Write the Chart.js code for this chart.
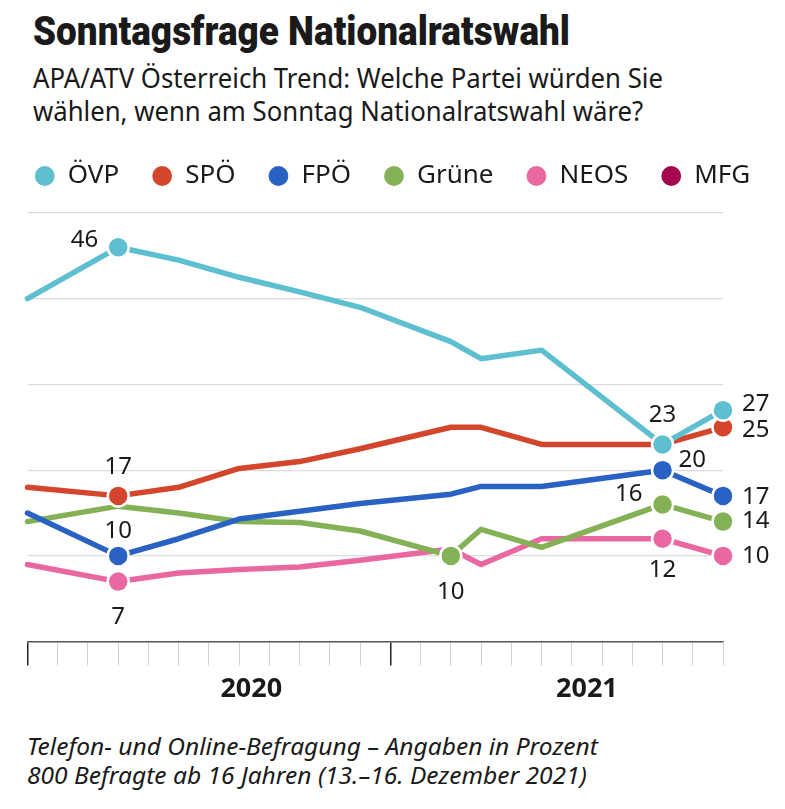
<!DOCTYPE html>
<html lang="de">
<head>
<meta charset="utf-8">
<title>Sonntagsfrage Nationalratswahl</title>
<script src="https://cdn.jsdelivr.net/npm/chart.js@4.4.1/dist/chart.umd.min.js"></script>
<style>
  body { margin: 0; background: #fff; }
  #page { position: relative; width: 785px; height: 809px; overflow: hidden; color: #1a1a1a; font-family: "Noto Sans", sans-serif; }
  .txt { position: absolute; white-space: nowrap; transform-origin: 0 0; }
  #title { left: 33px; top: 12px; font-family: Roboto, sans-serif; font-weight: 900; font-size: 40px; line-height: 40px; }
  .sub { left: 33px; font-size: 28px; line-height: 33px; }
  #sub1 { top: 61px; }
  #sub2 { top: 94px; }
  .foot { left: 27px; font-size: 24px; line-height: 29px; font-style: italic; }
  #foot1 { top: 731px; }
  #foot2 { top: 760px; }
  #chartBox { position: absolute; left: 0; top: 130px; width: 785px; height: 592px; }
</style>
</head>
<body>
<div id="page">
  <span class="txt" id="title">Sonntagsfrage Nationalratswahl</span>
  <span class="txt sub" id="sub1">APA/ATV Österreich Trend: Welche Partei würden Sie</span>
  <span class="txt sub" id="sub2">wählen, wenn am Sonntag Nationalratswahl wäre?</span>
  <div id="chartBox"><canvas id="chart"></canvas></div>
  <span class="txt foot" id="foot1">Telefon- und Online-Befragung – Angaben in Prozent</span>
  <span class="txt foot" id="foot2">800 Befragte ab 16 Jahren (13.–16. Dezember 2021)</span>
</div>
<script>
// months since January 2020 for each poll
const months = [0, 3, 5, 7, 9, 11, 14, 15, 17, 21, 23];

const ovp    = [40, 46, 44.5, 42.5, 40.8, 39, 35, 33, 34, 23, 27];
const spo    = [18, 17, 18, 20.2, 21, 22.5, 25, 25, 23, 23, 25];
const fpo    = [15, 10, 12, 14.3, 15.2, 16.1, 17.2, 18.1, 18.1, 20, 17];
const gruene = [14, 15.8, 15, 14, 13.9, 12.9, 10, 13.1, 11, 16, 14];
const neos   = [9, 7, 8, 8.4, 8.7, 9.5, 10.8, 9, 12, 12, 10];
const mfg    = [];

const parties = ['ÖVP', 'SPÖ', 'FPÖ', 'Grüne', 'NEOS', 'MFG'];
const series = [ovp, spo, fpo, gruene, neos, mfg];
const colors = ['#5dbfd0', '#d3462b', '#2a62c3', '#84b156', '#ea68a2', '#a3074f'];

const yearTicks = [7.4, 18.5];
const yearNames = ['2020', '2021'];

// which points get a dot and a value label: [index, side, extra y shift]
const spots = [
  [[1, 'l', -7], [9, 'a', 0], [10, 'r', -6]],
  [[1, 'a', 0], [10, 'r', 3]],
  [[1, 'a', 4], [9, 'ar', -10], [10, 'r', 1]],
  [[6, 'b', 0], [9, 'l', -10], [10, 'r', 0]],
  [[1, 'b', 0], [9, 'b', -5], [10, 'r', 0]],
  []
];

function isSpot(di, i) {
  return spots[di].some(s => s[0] === i);
}

const valueLabels = {
  id: 'valueLabels',
  afterDatasetsDraw(chart) {
    const ctx = chart.ctx;
    ctx.save();
    ctx.font = '24px "Noto Sans"';
    ctx.fillStyle = '#1a1a1a';
    ctx.textBaseline = 'middle';
    spots.forEach((list, di) => {
      const meta = chart.getDatasetMeta(di);
      list.forEach(([i, side, dy]) => {
        const pt = meta.data[i];
        let x = pt.x, y = pt.y + dy;
        if (side === 'a') { ctx.textAlign = 'center'; y -= 29; }
        else if (side === 'b') { ctx.textAlign = 'center'; y += 36; }
        else if (side === 'r') { ctx.textAlign = 'left'; x += 19; }
        else if (side === 'l') { ctx.textAlign = 'right'; x -= 20; }
        else if (side === 'ar') { ctx.textAlign = 'left'; x += 16; }
        ctx.fillText(String(Math.round(series[di][i])), x, y);
      });
    });
    ctx.restore();
  }
};

// a bit of room between legend and plot
const legendGap = {
  id: 'legendGap',
  beforeInit(chart) {
    const fit = chart.legend.fit;
    chart.legend.fit = function () {
      fit.call(this);
      this.height += 14;
    };
  }
};

new Chart(document.getElementById('chart'), {
  type: 'line',
  data: {
    datasets: parties.map((name, di) => ({
      label: name,
      data: series[di].map((v, i) => ({ x: months[i], y: v })),
      borderColor: colors[di],
      backgroundColor: colors[di],
      borderWidth: 5.5,
      borderJoinStyle: 'round',
      borderCapStyle: 'round',
      tension: 0,
      clip: false,
      pointBackgroundColor: colors[di],
      pointBorderColor: '#fff',
      pointBorderWidth: 2.5,
      pointRadius: ctx => isSpot(di, ctx.dataIndex) ? 10.5 : 0,
      pointHoverRadius: ctx => isSpot(di, ctx.dataIndex) ? 10.5 : 0
    }))
  },
  options: {
    responsive: true,
    maintainAspectRatio: false,
    animation: false,
    events: [],
    layout: { padding: { left: 0, right: 0, top: 0, bottom: 8 } },
    plugins: {
      tooltip: { enabled: false },
      legend: {
        position: 'top',
        align: 'center',
        labels: {
          usePointStyle: true,
          pointStyle: 'circle',
          boxWidth: 20,
          boxHeight: 14,
          padding: 33,
          color: '#1a1a1a',
          font: { family: 'Noto Sans', size: 26 },
          generateLabels: ch => Chart.defaults.plugins.legend.labels.generateLabels(ch).map(l =>
            Object.assign(l, { lineWidth: 0, fillStyle: colors[l.datasetIndex], strokeStyle: colors[l.datasetIndex] }))
        }
      }
    },
    scales: {
      x: {
        type: 'linear',
        min: 0,
        max: 23,
        afterBuildTicks: s => {
          const t = [];
          for (let m = 0; m <= 23; m++) t.push({ value: m });
          yearTicks.forEach(v => t.push({ value: v }));
          s.ticks = t;
        },
        grid: {
          drawOnChartArea: false,
          drawTicks: true,
          tickLength: 24,
          color: c => {
            const v = c.tick ? c.tick.value : 0;
            if (yearTicks.includes(v)) return 'rgba(0,0,0,0)';
            return (v === 0 || v === 12) ? '#222' : '#d0d0d0';
          },
          lineWidth: c => {
            const v = c.tick ? c.tick.value : 0;
            return (v === 0 || v === 12) ? 1.5 : 1;
          }
        },
        border: { display: true, color: '#555', width: 1.5 },
        ticks: {
          autoSkip: false,
          maxRotation: 0,
          padding: 8,
          color: '#1a1a1a',
          font: { family: 'Noto Sans', size: 27, weight: 'bold' },
          callback: v => {
            const k = yearTicks.indexOf(v);
            return k >= 0 ? yearNames[k] : '';
          }
        }
      },
      y: {
        min: 0,
        max: 50,
        ticks: { display: false, stepSize: 10 },
        grid: {
          drawTicks: false,
          color: c => (c.tick && c.tick.value === 0) ? 'rgba(0,0,0,0)' : '#dcdcdc',
          lineWidth: 1.2
        },
        border: { display: false },
        afterFit: s => { s.width = 27.5; }
      },
      // empty axis on the right that keeps room for the end labels
      yRight: {
        position: 'right',
        min: 0,
        max: 50,
        ticks: { display: false },
        grid: { display: false, drawTicks: false },
        border: { display: false },
        afterFit: s => { s.width = 62; }
      }
    }
  },
  plugins: [valueLabels, legendGap]
});

// squeeze texts to the condensed widths of the original
function fitWidth(ids, target) {
  const first = document.getElementById(ids[0]);
  const k = target / first.getBoundingClientRect().width;
  ids.forEach(id => { document.getElementById(id).style.transform = 'scaleX(' + k + ')'; });
}
fitWidth(['title'], 537);
fitWidth(['sub1', 'sub2'], 630);
fitWidth(['foot1', 'foot2'], 571);
</script>
</body>
</html>
